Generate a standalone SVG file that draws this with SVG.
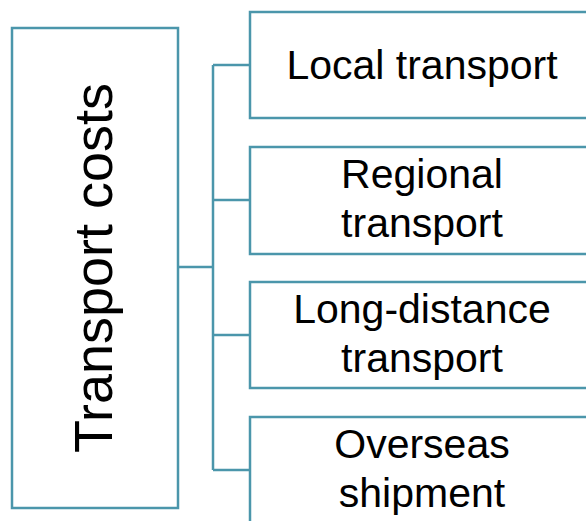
<svg xmlns="http://www.w3.org/2000/svg" width="586" height="521" viewBox="0 0 586 521">
<style>
.box{fill:#ffffff;stroke:#4b96ab;stroke-width:2.5}
.conn{fill:none;stroke:#4b96ab;stroke-width:2.5}
.t{font-family:"Liberation Sans",Arial,sans-serif;font-size:41px;fill:#000;text-anchor:middle}
.v{font-family:"Liberation Sans",Arial,sans-serif;font-size:54px;fill:#000;text-anchor:middle}
</style>
<rect width="586" height="521" fill="#ffffff"/>
<g id="connectors">
<path class="conn" d="M178 267 H213 M213 65 V470 M213 65 H250 M213 200 H250 M213 335 H250 M213 470 H250"/>
</g>
<g id="root">
<rect class="box" x="12" y="28" width="166" height="480"/>
<text class="v" transform="translate(112,268) rotate(-90)">Transport costs</text>
</g>
<g id="local">
<rect class="box" x="250" y="12" width="360" height="106"/>
<text class="t" x="422" y="79">Local transport</text>
</g>
<g id="regional">
<rect class="box" x="250" y="147" width="360" height="107"/>
<text class="t" x="422" y="188">Regional</text>
<text class="t" x="422" y="237">transport</text>
</g>
<g id="longdistance">
<rect class="box" x="250" y="282" width="360" height="106"/>
<text class="t" x="422" y="323">Long-distance</text>
<text class="t" x="422" y="372">transport</text>
</g>
<g id="overseas">
<rect class="box" x="250" y="417" width="360" height="120"/>
<text class="t" x="422" y="458">Overseas</text>
<text class="t" x="422" y="507">shipment</text>
</g>
</svg>
